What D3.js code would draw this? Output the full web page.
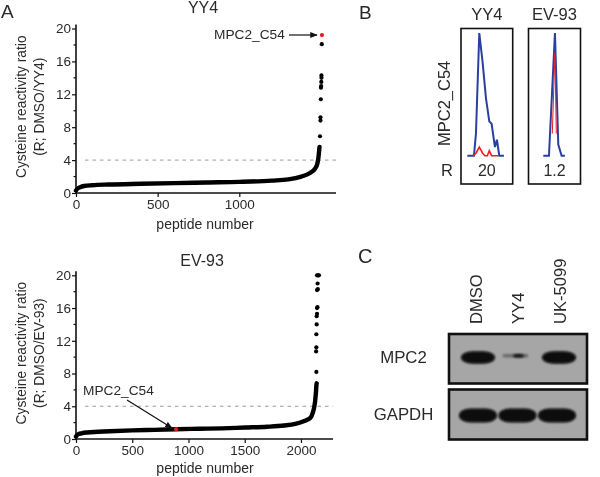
<!DOCTYPE html>
<html><head><meta charset="utf-8">
<script src="https://cdn.jsdelivr.net/npm/d3@7"></script>
<style>
html,body{margin:0;padding:0;background:#fff;overflow:hidden}
svg{display:block;filter:blur(0.35px)}
text{font-family:"Liberation Sans",Arial,sans-serif;fill:#2a2a2a}
</style></head><body>
<svg id="c" width="600" height="477"></svg>
<script>
// Panel A, YY4 ranked ratios: [rank, ratio]
const yy4Body=[[0,0.3],[10,0.55],[25,0.7],[50,0.85],[100,0.95],[200,1.03],[400,1.12],[600,1.2],[800,1.28],[1000,1.35],[1200,1.5],[1300,1.65],[1380,2.0],[1430,2.4],[1465,3.0],[1478,3.6],[1482,4.0],[1485,4.4],[1487,4.8],[1489,5.2],[1491,5.6]];
const yy4Dots=[[1494,6.9],[1497,8.8],[1497,9.2],[1499,11.4],[1500,12.8],[1501,13.0],[1502,13.5],[1503,14.0],[1503,14.3],[1505,18.1]];
const yy4Hit=[1506,19.2];
// Panel A, EV-93 ranked ratios
const evBody=[[0,0.3],[15,0.55],[50,0.7],[100,0.8],[300,0.95],[500,1.05],[700,1.12],[890,1.2],[1100,1.25],[1300,1.3],[1500,1.4],[1700,1.5],[1850,1.65],[1950,1.85],[2030,2.2],[2085,2.6],[2105,3.2],[2118,3.9],[2126,4.6],[2130,5.2],[2134,5.8],[2137,6.5],[2140,6.8]];
const evDots=[[2137,8.2],[2135,10.7],[2137,11.2],[2137,12.8],[2140,14],[2140,15],[2143,15.3],[2143,16],[2147,16.1],[2143,18.2],[2150,18.3],[2148,19],[2143,20],[2152,20],[2160,20]];
const evHit=[890,1.2];
const yTicks=[0,4,8,12,16,20], yMinor=[2,6,10,14,18];
const xTicksA=[0,500,1000], xTicksB=[0,500,1000,1500,2000];
// Panel B traces: [time, % intensity]
const yy4Heavy=[[0,0],[20,0],[26,18],[36,100],[46,76],[56,47],[66,28],[73,26],[83,7],[89,13],[96,0],[110,0]];
const yy4Light=[[18,0],[26,2],[36,7],[46,2],[53,0],[60,0],[66,4],[73,0],[93,0]];
const evHeavy=[[0,0],[17,0],[35,100],[45,9],[55,0],[65,0]];
const evLight=[[27,18],[35,84],[39,18]];
// Panel C blot: band strength per lane
const lanes=["DMSO","YY4","UK-5099"];
const mpc2Bands=[1,0.25,1];
const gapdhBands=[1,1,1];

const svg=d3.select("#c");
const defs=svg.append("defs");
defs.append("marker").attr("id","ah").attr("viewBox","0 0 10 8").attr("refX",9).attr("refY",4)
 .attr("markerWidth",8).attr("markerHeight",6).attr("markerUnits","userSpaceOnUse").attr("orient","auto")
 .append("path").attr("d","M0,0L10,4L0,8Z").attr("fill","#111");
defs.append("filter").attr("id","b1").attr("x","-30%").attr("y","-50%").attr("width","160%").attr("height","200%")
 .append("feGaussianBlur").attr("stdDeviation",0.8);
defs.append("filter").attr("id","b2").attr("x","-30%").attr("y","-120%").attr("width","160%").attr("height","340%")
 .append("feGaussianBlur").attr("stdDeviation",1.1);

function txt(x,y,s,size,anchor,rot){
  const t=svg.append("text").attr("x",x).attr("y",y).attr("font-size",size).attr("text-anchor",anchor||"middle").text(s);
  if(rot!==undefined)t.attr("transform",`rotate(${rot} ${x} ${y})`);
  return t;
}
function scatter(o){
  const x=d3.scaleLinear().domain([0,o.xMax]).range([o.x0,o.x1]);
  const y=d3.scaleLinear().domain([0,20]).range([o.y0,o.y20]);
  const g=svg.append("g");
  const yAxis=d3.axisLeft(y).tickValues(yTicks).tickFormat(d3.format("d")).tickSize(4).tickPadding(1);
  const yA=g.append("g").attr("transform",`translate(${o.x0},0)`).call(yAxis);
  yA.select(".domain").attr("d",`M0,${o.y0}V${o.y20-4}`);
  g.append("g").attr("transform",`translate(${o.x0},0)`).selectAll("line").data(yMinor).join("line")
    .attr("x1",-2.5).attr("x2",0).attr("y1",y).attr("y2",y).attr("stroke","#111").attr("stroke-width",1.2);
  const xA=g.append("g").attr("transform",`translate(0,${o.y0})`).call(d3.axisBottom(x).tickValues(o.xTicks).tickFormat(d3.format("d")).tickSize(4).tickPadding(2));
  xA.select(".domain").attr("d",`M${o.x0},0H${o.x1}`);
  g.selectAll(".domain").attr("stroke","#111").attr("stroke-width",1.6);
  g.selectAll(".tick line").attr("stroke","#111").attr("stroke-width",1.2);
  g.selectAll(".tick text").attr("font-size",13.5).attr("font-family",'"Liberation Sans",Arial,sans-serif').attr("fill","#2a2a2a");
  g.append("line").attr("x1",o.x0+9).attr("x2",o.x1).attr("y1",y(4)).attr("y2",y(4))
    .attr("stroke","#9a9a9a").attr("stroke-width",1).attr("stroke-dasharray","3.5 4");
  g.append("path").datum(o.body).attr("fill","none").attr("stroke","#000").attr("stroke-width",4.4)
    .attr("stroke-linecap","round").attr("d",d3.line().x(d=>x(d[0])).y(d=>y(d[1])).curve(d3.curveMonotoneX));
  g.selectAll("circle.d").data(o.dots).join("circle").attr("class","d").attr("cx",d=>x(d[0])).attr("cy",d=>y(d[1])).attr("r",2.1).attr("fill","#000");
  g.append("circle").attr("cx",x(o.hit[0])).attr("cy",y(o.hit[1])).attr("r",2.1).attr("fill","#f01818");
  txt(o.tx,o.ty,o.title,16);
  txt(o.labX,o.y0+o.labDy,"peptide number",14);
  txt(26,(o.y0+o.y20)/2+o.ylabOff,"Cysteine reactivity ratio",13.8,"middle",-90);
  txt(44,(o.y0+o.y20)/2+o.ylabOff,o.ylab2,13.8,"middle",-90);
  return {x,y};
}
const a=scatter({xMax:1592,x0:76,x1:336,y0:193,y20:28.5,xTicks:xTicksA,body:yy4Body,dots:yy4Dots,hit:yy4Hit,title:"YY4",tx:203,ty:12.5,ylab2:"(R; DMSO/YY4)",labX:205,labDy:36,ylabOff:-4});
const b=scatter({xMax:2285,x0:76,x1:333,y0:439,y20:275.3,xTicks:xTicksB,body:evBody,dots:evDots,hit:evHit,title:"EV-93",tx:202,ty:266,ylab2:"(R; DMSO/EV-93)",labX:205,labDy:34,ylabOff:-4});

txt(214,39,"MPC2_C54",13.7,"start");
svg.append("line").attr("x1",289).attr("y1",35).attr("x2",317).attr("y2",35).attr("stroke","#111").attr("stroke-width",1.2).attr("marker-end","url(#ah)");
txt(83,395,"MPC2_C54",13.7,"start");
svg.append("line").attr("x1",127).attr("y1",400).attr("x2",172).attr("y2",428).attr("stroke","#111").attr("stroke-width",1.2).attr("marker-end","url(#ah)");

txt(1,18,"A",19,"start");
txt(359,19,"B",19,"start");
txt(358,263,"C",20,"start");

// Panel B
function xic(x0,w,t0,heavy,light,title,r){
  const g=svg.append("g");
  g.append("rect").attr("x",x0).attr("y",28.5).attr("width",w).attr("height",155.5).attr("fill","#fff").attr("stroke","#111").attr("stroke-width",1.6);
  const x=d3.scaleLinear().domain([0,100]).range([t0,t0+33.3]);
  const y=d3.scaleLinear().domain([0,100]).range([155.7,33]);
  const l=d3.line().x(d=>x(d[0])).y(d=>y(d[1]));
  g.append("path").attr("d",l(heavy)).attr("fill","none").attr("stroke","#2b3f9f").attr("stroke-width",2);
  g.append("path").attr("d",l(light)).attr("fill","none").attr("stroke","#ee1c25").attr("stroke-width",title==="YY4"?1.6:1);
  txt(x0+w/2,20,title,16.5);
  txt(x0+w/2,176,r,16);
}
xic(461,51.7,467.3,yy4Heavy,yy4Light,"YY4","20");
xic(528.5,52,543.3,evHeavy,evLight,"EV-93","1.2");
txt(450,146,"MPC2_C54",16.5,"start",-90);
txt(447,176,"R",16.5,"middle");

// Panel C
const laneX=d3.scalePoint().domain(lanes).range([478,559]);
const laneXG=d3.scalePoint().domain(lanes).range([478,557]);
function blot(y0,h,vals,sc,bw,bh,cy,round){
  svg.append("rect").attr("x",449).attr("y",y0).attr("width",138).attr("height",h).attr("fill","#a6a6a6").attr("stroke","#111").attr("stroke-width",2.6);
  const g=svg.append("g");
  g.selectAll("rect").data(vals).join("rect")
    .attr("x",(d,i)=>sc(lanes[i])-bw/2).attr("y",cy-bh/2)
    .attr("width",bw).attr("height",bh).attr("rx",bw*round).attr("ry",bh/2)
    .attr("fill","#070707").attr("filter","url(#b1)")
    .filter(d=>d<.5)
    .attr("x",(d,i)=>sc(lanes[1])-16).attr("y",cy-3.5).attr("width",26).attr("height",3.5).attr("rx",2).attr("ry",2)
    .attr("fill","#6a6a6a").attr("filter","url(#b2)");
  g.selectAll("ellipse").data(vals.filter(d=>d<.5)).join("ellipse")
    .attr("cx",sc(lanes[1])).attr("cy",cy-1.8).attr("rx",5.5).attr("ry",1.8)
    .attr("fill","#111").attr("filter","url(#b2)");
}
blot(334,49.5,mpc2Bands,laneX,34,12.5,357.5,0.35);
blot(389.5,50,gapdhBands,laneXG,38,14,415.5,0.3);
lanes.forEach((s,i)=>txt([482,524,566][i],324,s,16.6,"start",-90));
txt(403.5,363,"MPC2",16.8);
txt(403.5,420,"GAPDH",16.8);
</script>
</body></html>
